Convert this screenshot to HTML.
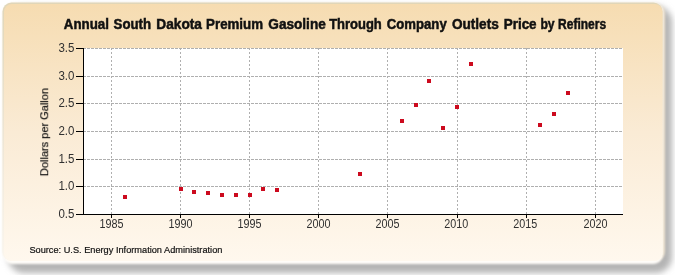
<!DOCTYPE html>
<html><head><meta charset="utf-8"><style>
html,body{margin:0;padding:0;background:#fff;}
svg{display:block;font-family:"Liberation Sans",sans-serif;}
text{will-change:transform;}
</style></head><body>
<svg width="675" height="275" viewBox="0 0 675 275">
<defs>
<linearGradient id="bg" x1="0" y1="0" x2="0" y2="1">
<stop offset="0" stop-color="#f6dcb1"/>
<stop offset="0.5" stop-color="#faebd5"/>
<stop offset="1" stop-color="#fff8ee"/>
</linearGradient>
<linearGradient id="rim" x1="0" y1="0" x2="0" y2="1">
<stop offset="0" stop-color="#e0d6b8"/>
<stop offset="0.5" stop-color="#ede5d4"/>
<stop offset="1" stop-color="#fbf6ee"/>
</linearGradient>
<filter id="sh" x="-10%" y="-10%" width="120%" height="120%">
<feGaussianBlur stdDeviation="3"/>
</filter>
<filter id="bl2" x="-5%" y="-5%" width="110%" height="110%"><feGaussianBlur stdDeviation="0.7"/></filter>
<filter id="bl" x="-5%" y="-5%" width="110%" height="110%"><feGaussianBlur stdDeviation="1.2"/></filter>
</defs>
<rect x="8" y="6" width="664" height="267" rx="16" fill="#b4b4b4" filter="url(#sh)"/>
<rect x="3" y="3" width="662" height="258.5" rx="10" fill="#efe3cf" filter="url(#bl)"/>
<rect x="3" y="3" width="659.5" height="261" rx="9" fill="#fffdf9" filter="url(#bl)"/>
<rect x="2.5" y="2.5" width="660" height="258.5" rx="9" fill="url(#rim)" filter="url(#bl2)"/>
<rect x="4" y="4" width="658.5" height="257" rx="8" fill="url(#bg)"/>
<rect x="84" y="48" width="539" height="166" fill="#fff"/>
<g stroke="#afafaf" stroke-width="1" fill="none">
<line x1="83" y1="48.5" x2="623" y2="48.5" stroke-dasharray="3,1"/><line x1="83" y1="76.5" x2="623" y2="76.5" stroke-dasharray="3,1"/><line x1="83" y1="103.5" x2="623" y2="103.5" stroke-dasharray="3,1"/><line x1="83" y1="131.5" x2="623" y2="131.5" stroke-dasharray="3,1"/><line x1="83" y1="159.5" x2="623" y2="159.5" stroke-dasharray="3,1"/><line x1="83" y1="186.5" x2="623" y2="186.5" stroke-dasharray="3,1"/><line x1="111.5" y1="48" x2="111.5" y2="214" stroke-dasharray="2,2"/><line x1="180.5" y1="48" x2="180.5" y2="214" stroke-dasharray="2,2"/><line x1="249.5" y1="48" x2="249.5" y2="214" stroke-dasharray="2,2"/><line x1="318.5" y1="48" x2="318.5" y2="214" stroke-dasharray="2,2"/><line x1="387.5" y1="48" x2="387.5" y2="214" stroke-dasharray="2,2"/><line x1="457.5" y1="48" x2="457.5" y2="214" stroke-dasharray="2,2"/><line x1="526.5" y1="48" x2="526.5" y2="214" stroke-dasharray="2,2"/><line x1="595.5" y1="48" x2="595.5" y2="214" stroke-dasharray="2,2"/>
</g>
<g stroke="#000" stroke-width="1" fill="none">
<line x1="83.5" y1="48" x2="83.5" y2="215"/>
<line x1="83" y1="214.5" x2="623" y2="214.5"/>
<line x1="76" y1="48.5" x2="83" y2="48.5"/><line x1="76" y1="76.5" x2="83" y2="76.5"/><line x1="76" y1="103.5" x2="83" y2="103.5"/><line x1="76" y1="131.5" x2="83" y2="131.5"/><line x1="76" y1="159.5" x2="83" y2="159.5"/><line x1="76" y1="186.5" x2="83" y2="186.5"/><line x1="76" y1="214.5" x2="83" y2="214.5"/><line x1="111.5" y1="214" x2="111.5" y2="218"/><line x1="180.5" y1="214" x2="180.5" y2="218"/><line x1="249.5" y1="214" x2="249.5" y2="218"/><line x1="318.5" y1="214" x2="318.5" y2="218"/><line x1="387.5" y1="214" x2="387.5" y2="218"/><line x1="457.5" y1="214" x2="457.5" y2="218"/><line x1="526.5" y1="214" x2="526.5" y2="218"/><line x1="595.5" y1="214" x2="595.5" y2="218"/>
</g>
<g fill="#cc0a1e" shape-rendering="crispEdges">
<rect x="123" y="195" width="4" height="4"/><rect x="179" y="187" width="4" height="4"/><rect x="192" y="190" width="4" height="4"/><rect x="206" y="191" width="4" height="4"/><rect x="220" y="193" width="4" height="4"/><rect x="234" y="193" width="4" height="4"/><rect x="248" y="193" width="4" height="4"/><rect x="261" y="187" width="4" height="4"/><rect x="275" y="188" width="4" height="4"/><rect x="358" y="172" width="4" height="4"/><rect x="400" y="119" width="4" height="4"/><rect x="414" y="103" width="4" height="4"/><rect x="427" y="79" width="4" height="4"/><rect x="441" y="126" width="4" height="4"/><rect x="455" y="105" width="4" height="4"/><rect x="469" y="62" width="4" height="4"/><rect x="538" y="123" width="4" height="4"/><rect x="552" y="112" width="4" height="4"/><rect x="566" y="91" width="4" height="4"/>
</g>
<g font-size="12" fill="#303030">
<text x="74.4" y="51.8" text-anchor="end" textLength="16" lengthAdjust="spacingAndGlyphs">3.5</text><text x="74.4" y="79.8" text-anchor="end" textLength="16" lengthAdjust="spacingAndGlyphs">3.0</text><text x="74.4" y="106.8" text-anchor="end" textLength="16" lengthAdjust="spacingAndGlyphs">2.5</text><text x="74.4" y="134.8" text-anchor="end" textLength="16" lengthAdjust="spacingAndGlyphs">2.0</text><text x="74.4" y="162.8" text-anchor="end" textLength="16" lengthAdjust="spacingAndGlyphs">1.5</text><text x="74.4" y="189.8" text-anchor="end" textLength="16" lengthAdjust="spacingAndGlyphs">1.0</text><text x="74.4" y="217.8" text-anchor="end" textLength="16" lengthAdjust="spacingAndGlyphs">0.5</text>
<text x="111.5" y="227.8" text-anchor="middle" textLength="24" lengthAdjust="spacingAndGlyphs">1985</text><text x="180.5" y="227.8" text-anchor="middle" textLength="24" lengthAdjust="spacingAndGlyphs">1990</text><text x="249.5" y="227.8" text-anchor="middle" textLength="24" lengthAdjust="spacingAndGlyphs">1995</text><text x="318.5" y="227.8" text-anchor="middle" textLength="24" lengthAdjust="spacingAndGlyphs">2000</text><text x="387.5" y="227.8" text-anchor="middle" textLength="24" lengthAdjust="spacingAndGlyphs">2005</text><text x="456.3" y="227.8" text-anchor="middle" textLength="24" lengthAdjust="spacingAndGlyphs">2010</text><text x="525.2" y="227.8" text-anchor="middle" textLength="24" lengthAdjust="spacingAndGlyphs">2015</text><text x="595.5" y="227.8" text-anchor="middle" textLength="24" lengthAdjust="spacingAndGlyphs">2020</text>
</g>
<g font-size="14" font-weight="bold" fill="#111" stroke="#111" stroke-width="0.5"><text x="63.80" y="29" textLength="45.10" lengthAdjust="spacingAndGlyphs">Annual</text><text x="113.60" y="29" textLength="37.40" lengthAdjust="spacingAndGlyphs">South</text><text x="156.30" y="29" textLength="45.60" lengthAdjust="spacingAndGlyphs">Dakota</text><text x="206.10" y="29" textLength="56.90" lengthAdjust="spacingAndGlyphs">Premium</text><text x="268.30" y="29" textLength="57.50" lengthAdjust="spacingAndGlyphs">Gasoline</text><text x="329.20" y="29" textLength="52.60" lengthAdjust="spacingAndGlyphs">Through</text><text x="386.80" y="29" textLength="59.90" lengthAdjust="spacingAndGlyphs">Company</text><text x="451.90" y="29" textLength="46.90" lengthAdjust="spacingAndGlyphs">Outlets</text><text x="503.70" y="29" textLength="32.90" lengthAdjust="spacingAndGlyphs">Price</text><text x="540.40" y="29" textLength="14.20" lengthAdjust="spacingAndGlyphs">by</text><text x="558.10" y="29" textLength="48.00" lengthAdjust="spacingAndGlyphs">Refiners</text></g>
<text x="0" y="0" font-size="11" fill="#111" stroke="#111" stroke-width="0.2" transform="translate(48.2,132.1) rotate(-90)" text-anchor="middle">Dollars per Gallon</text>
<text x="29.4" y="252.9" font-size="9.4" fill="#111" stroke="#111" stroke-width="0.2" textLength="193" lengthAdjust="spacingAndGlyphs">Source: U.S. Energy Information Administration</text>
</svg>
</body></html>
